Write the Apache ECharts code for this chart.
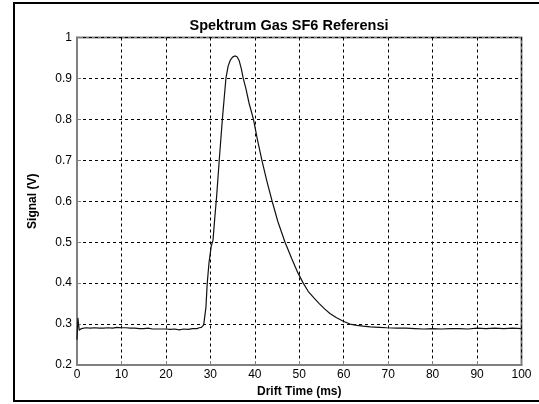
<!DOCTYPE html>
<html>
<head>
<meta charset="utf-8">
<script src="https://cdn.jsdelivr.net/npm/echarts@6/dist/echarts.min.js"></script>
<style>
html,body{margin:0;padding:0;background:#fff;}
#c{width:539px;height:404px;}
</style>
</head>
<body>
<div id="c"></div>
<script>
const driftTime = [0, 0.2, 0.5, 1, 2, 3, 4, 5, 6, 7, 8, 9, 10, 11, 12, 13, 14, 15, 16, 17, 18, 19, 20, 21, 22, 23, 24, 25, 26, 27, 27.5, 28, 28.5, 29, 29.3, 29.7, 30.2, 30.6, 31, 31.4, 32, 32.7, 33.5, 34, 34.5, 35, 35.5, 36, 36.5, 37, 37.4, 38, 38.7, 39.7, 40.6, 41.6, 42.7, 43.9, 45.2, 46.8, 48.3, 49.7, 50.9, 52, 53.2, 54.5, 55.7, 56.9, 58.3, 59.9, 61.4, 63, 64.4, 66, 68, 69.7, 72, 74, 76, 78, 80, 82, 84, 86, 88, 90, 92, 94, 96, 98, 100];
const signal = [0.262, 0.315, 0.285, 0.289, 0.291, 0.290, 0.291, 0.290, 0.290, 0.291, 0.290, 0.292, 0.291, 0.291, 0.290, 0.290, 0.289, 0.289, 0.290, 0.288, 0.288, 0.288, 0.288, 0.287, 0.288, 0.286, 0.288, 0.287, 0.289, 0.289, 0.291, 0.292, 0.298, 0.340, 0.400, 0.450, 0.490, 0.505, 0.560, 0.610, 0.700, 0.800, 0.900, 0.930, 0.945, 0.952, 0.955, 0.953, 0.943, 0.922, 0.900, 0.875, 0.840, 0.800, 0.750, 0.700, 0.650, 0.600, 0.550, 0.500, 0.460, 0.425, 0.400, 0.380, 0.365, 0.350, 0.337, 0.326, 0.316, 0.307, 0.300, 0.297, 0.295, 0.293, 0.292, 0.291, 0.290, 0.290, 0.289, 0.288, 0.289, 0.288, 0.289, 0.289, 0.288, 0.290, 0.289, 0.290, 0.289, 0.290, 0.289];
const titleText = "Spektrum Gas SF6 Referensi";
const xName = "Drift Time (ms)";
const yName = "Signal (V)";

const data = driftTime.map((t, i) => [t, signal[i]]);
const chart = echarts.init(document.getElementById('c'), null, {renderer: 'canvas'});
const font = 'Liberation Sans, Arial, Helvetica, sans-serif';
const gridLine = {show: true, lineStyle: {color: '#000', width: 1, type: [3, 3]}};
const axisLine = {show: true, onZero: false, lineStyle: {color: '#808080', width: 2}};
chart.setOption({
  animation: false,
  backgroundColor: '#fff',
  title: {
    text: titleText, left: 284, top: 13, textAlign: 'center',
    textStyle: {fontFamily: font, fontSize: 14.5, fontWeight: 'bold', color: '#000'}
  },
  grid: {left: 77, right: 17.5, top: 37.5, bottom: 39, show: true, borderColor: '#808080', borderWidth: 2, backgroundColor: 'transparent'},
  xAxis: {
    type: 'value', min: 0, max: 100, interval: 10,
    name: xName, nameLocation: 'middle', nameGap: 20,
    nameTextStyle: {fontFamily: font, fontSize: 12, fontWeight: 'bold', color: '#000'},
    axisLine: axisLine,
    axisTick: {show: true, inside: true, length: 4, lineStyle: {color: '#808080'}},
    axisLabel: {fontFamily: font, fontSize: 12, color: '#000', margin: 4},
    splitLine: gridLine
  },
  yAxis: {
    type: 'value', min: 0.2, max: 1, interval: 0.1,
    name: yName, nameLocation: 'middle', nameGap: 38, nameRotate: 90,
    nameTextStyle: {fontFamily: font, fontSize: 12, fontWeight: 'bold', color: '#000'},
    axisLine: axisLine,
    axisTick: {show: true, inside: true, length: 4, lineStyle: {color: '#808080'}},
    axisLabel: {fontFamily: font, fontSize: 12, color: '#000', margin: 5,
      formatter: v => String(Math.round(v * 10) / 10)},
    splitLine: gridLine
  },
  graphic: [
    {type: 'polyline', z: 100, silent: true,
     shape: {points: [[545, 3], [14, 3], [14, 401], [545, 401]]},
     style: {stroke: '#000', lineWidth: 2, fill: null}}
  ],
  series: [{
    type: 'line', data: data, showSymbol: false, symbol: 'none',
    lineStyle: {color: '#111', width: 1.2}, z: 10
  }]
});
</script>
</body>
</html>
